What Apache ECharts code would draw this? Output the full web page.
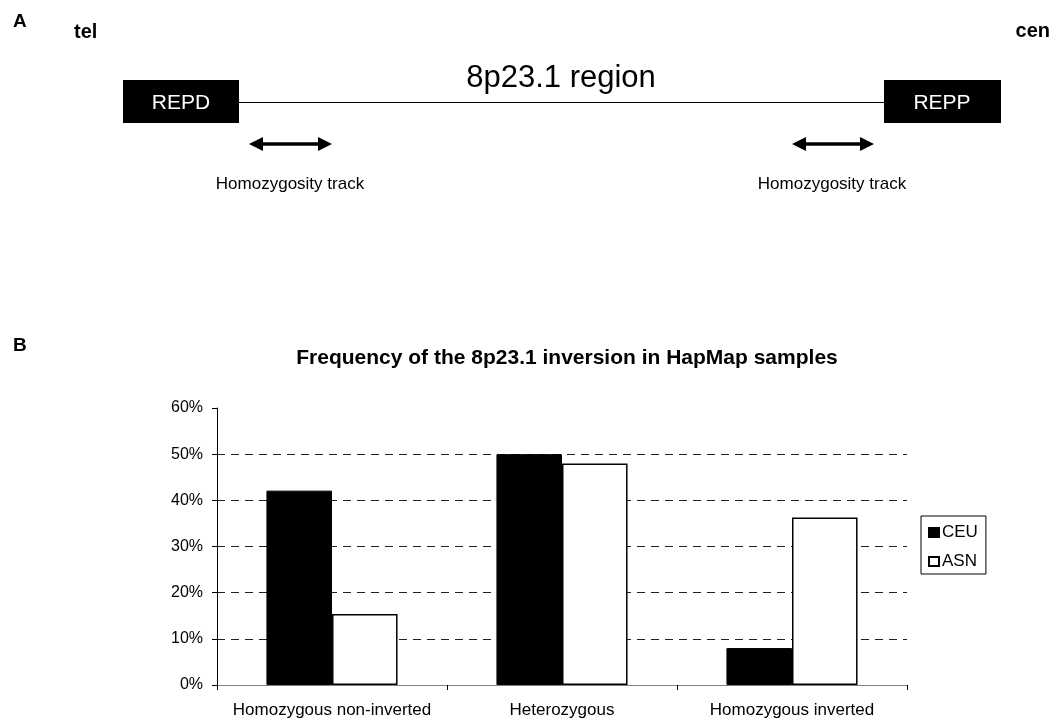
<!DOCTYPE html>
<html><head><meta charset="utf-8">
<script src="https://cdn.jsdelivr.net/npm/echarts@6/dist/echarts.min.js"></script>
<style>html,body{margin:0;padding:0;background:#fff}#c{width:1054px;height:723px}</style>
</head><body><div id="c"></div>
<script>
const categories = ['Homozygous non-inverted', 'Heterozygous', 'Homozygous inverted'];
const ceu = [0.421, 0.50, 0.08];
const asn = [0.154, 0.48, 0.363];
const yTicks = [0, 0.1, 0.2, 0.3, 0.4, 0.5, 0.6];
const seriesNames = ['CEU', 'ASN'];
const FONT = '"Liberation Sans", Arial, sans-serif';

const chart = echarts.init(document.getElementById('c'));
chart.setOption({
  backgroundColor: '#fff',
  animation: false,
  textStyle: { fontFamily: FONT },
  title: {
    text: 'Frequency of the 8p23.1 inversion in HapMap samples',
    left: 562, top: 343, textAlign: 'center',
    textStyle: { fontFamily: FONT, fontSize: 21, fontWeight: 'bold', color: '#000' }
  },
  legend: {
    orient: 'vertical', left: 921, top: 516,
    padding: [8, 8, 4, 7], itemGap: 12,
    borderColor: '#000', borderWidth: 1,
    itemWidth: 10, itemHeight: 9, icon: 'rect',
    textStyle: { fontFamily: FONT, fontSize: 17, color: '#000', padding: [0, 0, 0, -2] },
    data: seriesNames
  },
  grid: { left: 217, right: 147, top: 408, bottom: 38, containLabel: false },
  xAxis: {
    type: 'category', data: categories,
    axisLine: { lineStyle: { color: '#808080', width: 1 } },
    axisTick: { show: true, interval: 0, length: 5, lineStyle: { color: '#000' } },
    axisLabel: { interval: 0, fontFamily: FONT, fontSize: 17, color: '#000', margin: 17 }
  },
  yAxis: {
    type: 'value', min: yTicks[0], max: yTicks[yTicks.length - 1], interval: 0.1,
    axisLine: { show: true, lineStyle: { color: '#000', width: 1 } },
    axisTick: { show: true, length: 5, lineStyle: { color: '#000' } },
    axisLabel: { fontFamily: FONT, fontSize: 16, color: '#000', margin: 14,
      formatter: v => Math.round(v * 100) + '%' },
    splitLine: { show: true, showMaxLine: false, showMinLine: false,
      lineStyle: { color: '#222', type: [8, 6], width: 1 } }
  },
  series: [
    { name: seriesNames[0], type: 'bar', data: ceu, barGap: '0%', barCategoryGap: '43%',
      itemStyle: { color: '#000', borderColor: '#000', borderWidth: 1 } },
    { name: seriesNames[1], type: 'bar', data: asn, barGap: '0%', barCategoryGap: '43%',
      itemStyle: { color: '#fff', borderColor: '#000', borderWidth: 1.5 } }
  ],
  graphic: [
    { type: 'text', x: 13, y: 21.5, style: { text: 'A', font: 'bold 19px ' + FONT, fill: '#000', verticalAlign: 'middle' } },
    { type: 'text', x: 74, y: 32, style: { text: 'tel', font: 'bold 20px ' + FONT, fill: '#000', verticalAlign: 'middle' } },
    { type: 'text', x: 1050, y: 31, style: { text: 'cen', font: 'bold 20px ' + FONT, fill: '#000', align: 'right', verticalAlign: 'middle' } },
    { type: 'line', shape: { x1: 239, y1: 102.5, x2: 885, y2: 102.5 }, style: { stroke: '#000', lineWidth: 1 } },
    { type: 'rect', shape: { x: 123, y: 80, width: 116, height: 43 }, style: { fill: '#000' } },
    { type: 'rect', shape: { x: 884, y: 80, width: 117, height: 43 }, style: { fill: '#000' } },
    { type: 'text', x: 181, y: 103, style: { text: 'REPD', font: '21px ' + FONT, fill: '#fff', align: 'center', verticalAlign: 'middle' } },
    { type: 'text', x: 942, y: 103, style: { text: 'REPP', font: '21px ' + FONT, fill: '#fff', align: 'center', verticalAlign: 'middle' } },
    { type: 'text', x: 561, y: 78, style: { text: '8p23.1 region', font: '31px ' + FONT, fill: '#000', align: 'center', verticalAlign: 'middle' } },
    // arrows
    { type: 'line', shape: { x1: 258, y1: 144, x2: 323, y2: 144 }, style: { stroke: '#000', lineWidth: 3.5 } },
    { type: 'polygon', shape: { points: [[249, 144], [263, 137], [263, 151]] }, style: { fill: '#000' } },
    { type: 'polygon', shape: { points: [[332, 144], [318, 137], [318, 151]] }, style: { fill: '#000' } },
    { type: 'line', shape: { x1: 800, y1: 144, x2: 865, y2: 144 }, style: { stroke: '#000', lineWidth: 3.5 } },
    { type: 'polygon', shape: { points: [[792, 144], [806, 137], [806, 151]] }, style: { fill: '#000' } },
    { type: 'polygon', shape: { points: [[874, 144], [860, 137], [860, 151]] }, style: { fill: '#000' } },
    { type: 'text', x: 290, y: 184, style: { text: 'Homozygosity track', font: '17px ' + FONT, fill: '#000', align: 'center', verticalAlign: 'middle' } },
    { type: 'text', x: 832, y: 184, style: { text: 'Homozygosity track', font: '17px ' + FONT, fill: '#000', align: 'center', verticalAlign: 'middle' } },
    { type: 'text', x: 13, y: 346, style: { text: 'B', font: 'bold 19px ' + FONT, fill: '#000', verticalAlign: 'middle' } }
  ]
});
</script></body></html>
